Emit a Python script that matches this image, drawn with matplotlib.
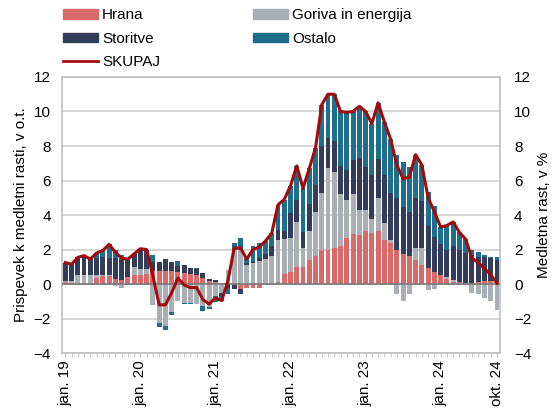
import numpy as np
import matplotlib
matplotlib.use("Agg")
import matplotlib.pyplot as plt
from matplotlib.patches import Patch
from matplotlib.lines import Line2D

plt.rcParams['font.family'] = ['Liberation Sans', 'DejaVu Sans']

# monthly data, jan 2019 - okt 2024
hrana = [0.10, 0.05, 0.05, 0.05, 0.05, 0.35, 0.45, 0.45, 0.30, 0.25, 0.40, 0.50,
         0.50, 0.60, 0.75, 0.75, 0.75, 0.75, 0.70, 0.65, 0.60, 0.55, 0.35, 0.20,
         0.10, 0.05, 0.00, 0.00, -0.30, -0.20, -0.20, -0.25, 0.00, 0.05, 0.15, 0.60,
         0.70, 1.00, 1.00, 1.40, 1.65, 1.95, 2.00, 2.10, 2.20, 2.70, 2.90, 2.85,
         3.10, 2.95, 3.10, 2.55, 2.40, 2.00, 1.75, 1.65, 1.40, 1.10, 0.95, 0.70,
         0.50, 0.30, 0.15, 0.10, 0.00, 0.05, 0.15, 0.20, 0.20, 0.15]
goriva = [0.10, 0.15, 0.45, 0.45, 0.50, 0.20, 0.05, 0.05, -0.10, -0.20, -0.05, 0.50,
          0.35, 0.30, -1.20, -2.25, -2.40, -1.60, -1.00, -1.10, -1.10, -1.15, -1.25, -1.30,
          -0.70, -0.50, 0.80, 2.00, 2.00, 1.10, 1.20, 1.35, 1.45, 1.60, 2.40, 2.00,
          1.95, 2.60, 1.10, 1.65, 2.50, 3.35, 4.70, 4.40, 3.00, 2.20, 2.30, 1.45,
          1.20, 0.80, 1.90, 1.00, 0.15, -0.60, -1.00, -0.60, 0.70, 1.00, -0.35, -0.30,
          0.00, 0.10, 0.10, 0.05, 0.05, -0.50, -0.60, -0.80, -1.00, -1.50]
storitve = [1.00, 0.90, 1.05, 1.15, 0.90, 0.95, 1.05, 1.00, 1.20, 1.15, 1.00, 0.75,
            1.20, 1.05, 0.55, 0.55, 0.70, 0.55, 0.35, 0.45, 0.35, 0.30, 0.30, 0.10,
            0.15, -0.20, -0.20, -0.30, -0.30, 0.10, 0.10, 0.15, 0.30, 0.55, 0.60, 0.50,
            1.45, 1.25, 0.90, 1.60, 1.60, 2.70, 1.75, 1.80, 1.65, 1.70, 2.00, 3.00,
            2.50, 2.55, 2.25, 2.80, 2.75, 3.00, 2.70, 2.55, 2.90, 2.70, 2.40, 2.05,
            1.80, 1.60, 1.95, 1.85, 1.75, 1.65, 1.45, 1.40, 1.30, 1.25]
ostalo = [0.05, 0.05, 0.00, 0.00, 0.00, 0.30, 0.40, 0.80, 0.45, 0.30, 0.10, 0.00,
          0.00, 0.05, 0.40, -0.25, -0.25, -0.20, 0.30, -0.05, -0.05, 0.10, -0.30, -0.15,
          -0.35, -0.30, -0.40, 0.40, 0.70, 0.45, 0.90, 0.90, 0.75, 0.75, 1.45, 1.80,
          1.60, 2.00, 2.55, 2.05, 2.15, 2.40, 2.55, 2.70, 3.15, 3.35, 2.80, 3.00,
          3.20, 3.00, 3.25, 3.05, 3.10, 2.50, 2.65, 2.60, 2.50, 2.10, 2.00, 1.75,
          1.00, 1.40, 1.40, 1.00, 0.80, 0.30, 0.25, 0.10, 0.05, 0.15]
skupaj = [1.25, 1.15, 1.55, 1.65, 1.45, 1.80, 1.95, 2.30, 1.85, 1.50, 1.45, 1.75,
          2.05, 2.00, 0.50, -1.20, -1.20, -0.50, 0.35, -0.05, -0.20, -0.20, -0.90, -1.15,
          -0.80, -0.95, 0.20, 2.10, 2.10, 1.45, 2.00, 2.15, 2.50, 2.95, 4.60, 4.90,
          5.70, 6.85, 5.55, 6.70, 7.90, 10.40, 11.00, 11.00, 10.00, 9.95, 10.00, 10.30,
          10.00, 9.30, 10.50, 9.40, 8.40, 6.90, 6.10, 6.20, 7.50, 6.90, 5.00, 4.20,
          3.30, 3.40, 3.60, 3.00, 2.60, 1.50, 1.25, 0.90, 0.55, 0.05]

tick_pos = [0, 12, 24, 36, 48, 60, 69]
tick_labels = ['jan. 19', 'jan. 20', 'jan. 21', 'jan. 22', 'jan. 23', 'jan. 24', 'okt. 24']

names = ['Hrana', 'Goriva in energija', 'Storitve', 'Ostalo']
colors = ['#D96A6A', '#A9AFB5', '#333C5A', '#1E6E8C']
line_color = '#A00B0B'
grid_color = '#D0D0D0'

x = np.arange(len(skupaj))

fig = plt.figure(figsize=(5.6, 4.16), dpi=100)
ax = fig.add_axes([0.111, 0.151, 0.782, 0.664])

pos_base = np.zeros(len(x))
neg_base = np.zeros(len(x))
for vals, col in zip([hrana, goriva, storitve, ostalo], colors):
    v = np.array(vals)
    p = np.where(v > 0, v, 0)
    n = np.where(v < 0, v, 0)
    ax.bar(x, p, bottom=pos_base, width=0.78, color=col, zorder=2, linewidth=0)
    ax.bar(x, n, bottom=neg_base, width=0.78, color=col, zorder=2, linewidth=0)
    pos_base += p
    neg_base += n

ax.axhline(0, color='#7F7F7F', lw=1.3, zorder=3)
ax.plot(x, skupaj, color=line_color, lw=2.2, zorder=4)

ax.set_xlim(-0.5, len(x) - 0.5)
ax.set_ylim(-4, 12)
ax.set_yticks(np.arange(-4, 13, 2))
ax.yaxis.grid(True, color=grid_color, lw=1.2, zorder=0)
ax.set_axisbelow(True)

ax.set_xticks(tick_pos)
ax.set_xticklabels(tick_labels, rotation=90, fontsize=11)
ax.set_xticks(x, minor=True)
ax.tick_params(axis='x', which='both', length=3, color='#BFBFBF', pad=2)
ax.tick_params(axis='y', length=0, labelsize=11, pad=8)

for s in ax.spines.values():
    s.set_color('#BFBFBF')
    s.set_linewidth(1.2)

ax.set_ylabel('Prispevek k medletni rasti, v o.t.', fontsize=11, labelpad=4)

ax2 = ax.twinx()
ax2.set_ylim(-4, 12)
ax2.set_yticks(np.arange(-4, 13, 2))
ax2.tick_params(axis='y', length=0, labelsize=11, pad=10)
for s in ax2.spines.values():
    s.set_visible(False)
ax2.set_ylabel('Medletna rast, v %', fontsize=11, labelpad=4)

handles = [Patch(color=colors[0]), Patch(color=colors[1]),
           Patch(color=colors[2]), Patch(color=colors[3]),
           Line2D([], [], color=line_color, lw=2)]
labels = [names[0], names[1], names[2], names[3], 'SKUPAJ']
order = [0, 2, 4, 1, 3]
leg = fig.legend([handles[i] for i in order], [labels[i] for i in order],
                 ncol=2, loc='upper left', bbox_to_anchor=(0.088, 1.013),
                 frameon=False, fontsize=11, handlelength=2.3, handleheight=0.6,
                 handletextpad=0.25, columnspacing=6.1, labelspacing=0.62)

fig.savefig('out.png', dpi=100)
